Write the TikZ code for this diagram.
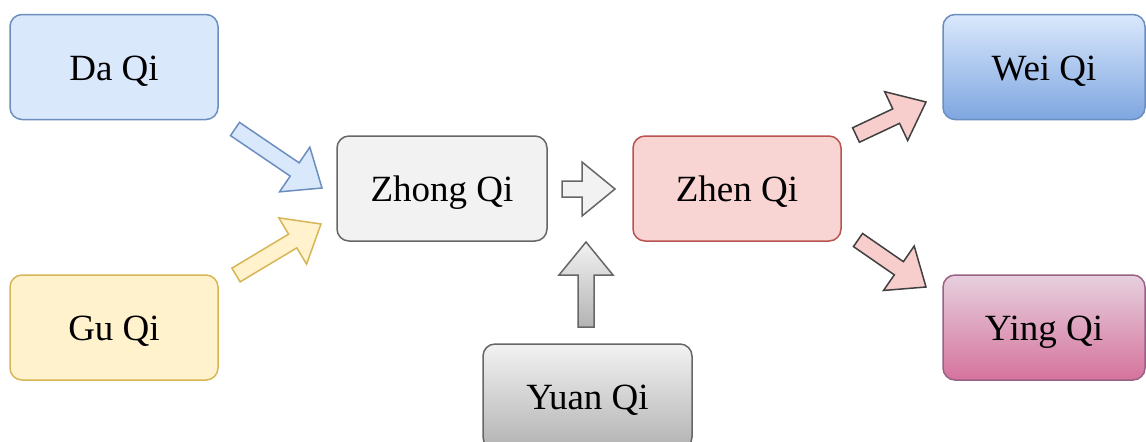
\documentclass[tikz,border=0pt]{standalone}
\usepackage{fontspec}
\setmainfont{Liberation Serif}
\usetikzlibrary{calc}
\definecolor{blueF}{HTML}{DAE8FC}
\definecolor{blueD}{HTML}{7EA6E0}
\definecolor{blueB}{HTML}{6C8EBF}
\definecolor{yelF}{HTML}{FFF2CC}
\definecolor{yelB}{HTML}{D6B656}
\definecolor{greyF}{HTML}{F2F2F2}
\definecolor{greyD}{HTML}{B3B3B3}
\definecolor{greyB}{HTML}{666666}
\definecolor{redF}{HTML}{F8D4D2}
\definecolor{redB}{HTML}{B85450}
\definecolor{pinkF}{HTML}{F8CECC}
\definecolor{darkB}{HTML}{404040}
\definecolor{magT}{HTML}{E6D0DE}
\definecolor{magD}{HTML}{D5739D}
\definecolor{magB}{HTML}{996185}
\tikzset{
  box/.style={draw, rounded corners=6pt, minimum width=104pt, minimum height=52.5pt,
    inner sep=0pt, line width=0.75pt, text height=13pt, text depth=0pt,
    font=\fontsize{18.5}{22}\selectfont},
  narrowbox/.style={box, minimum width=101pt},
  barrow/.style={line width=0.75pt},
}
\newcommand\blockarrow[3]{%
  \coordinate (ba-base) at ($(#3)!16.5pt!(#2)$);
  \draw[barrow,#1] ($(#2)!4pt!90:(#3)$) -- ($(ba-base)!4pt!90:(#3)$)
    -- ($(ba-base)!13.5pt!90:(#3)$) -- (#3) -- ($(ba-base)!13.5pt!-90:(#3)$)
    -- ($(ba-base)!4pt!-90:(#3)$) -- ($(#2)!4pt!-90:(#3)$) -- cycle;}
\begin{document}
\begin{tikzpicture}[x=0.5pt,y=-0.5pt]
\clip (0,0) rectangle (1146,441);
\fill[white] (0,0) rectangle (1146,441);
% boxes
\node[box, fill=blueF, draw=blueB] (da) at (114,67) {Da Qi};
\node[box, fill=yelF, draw=yelB] (gu) at (114,327.5) {Gu Qi};
\node[box, minimum width=105pt, fill=greyF, draw=greyB] (zhong) at (442,188.5) {Zhong Qi};
\node[box, fill=redF, draw=redB] (zhen) at (737,188.5) {Zhen Qi};
\node[narrowbox, top color=blueF, bottom color=blueD, draw=blueB] (wei) at (1044,67) {Wei Qi};
\node[narrowbox, top color=magT, bottom color=magD, draw=magB] (ying) at (1044,327.5) {Ying Qi};
\node[box, minimum width=104.5pt, top color=greyF, bottom color=greyD, draw=greyB] (yuan) at (587.5,396.5) {Yuan Qi};
% arrow end points
\coordinate (a1t) at (235,129);  \coordinate (a1h) at (322,188);
\coordinate (a2t) at (236,275);  \coordinate (a2h) at (321,224);
\coordinate (a3t) at (562,189);  \coordinate (a3h) at (615,189);
\coordinate (a4t) at (586,327);  \coordinate (a4h) at (586,242);
\coordinate (a5t) at (856,135);  \coordinate (a5h) at (926,102);
\coordinate (a6t) at (858,240);  \coordinate (a6h) at (926,287);
\blockarrow{fill=blueF, draw=blueB}{a1t}{a1h}
\blockarrow{fill=yelF, draw=yelB}{a2t}{a2h}
\blockarrow{fill=greyF, draw=greyB}{a3t}{a3h}
\blockarrow{top color=greyF, bottom color=greyD, draw=greyB}{a4t}{a4h}
\blockarrow{fill=pinkF, draw=darkB}{a5t}{a5h}
\blockarrow{fill=pinkF, draw=darkB}{a6t}{a6h}
\end{tikzpicture}
\end{document}
